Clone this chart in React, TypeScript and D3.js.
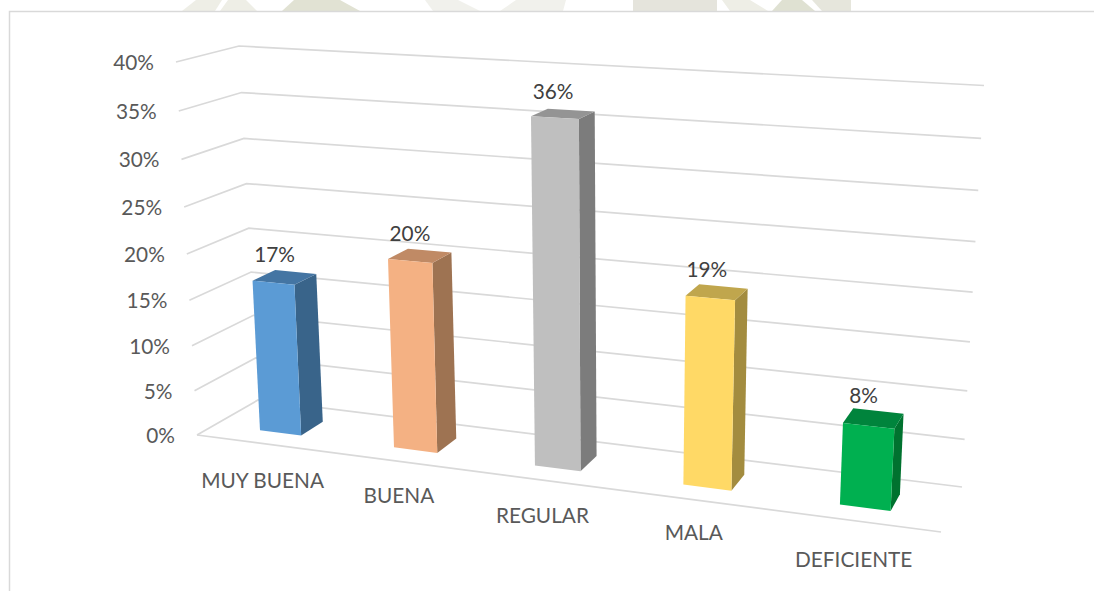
import React from "react";
import * as d3 from "d3";

const categories = ["MUY BUENA", "BUENA", "REGULAR", "MALA", "DEFICIENTE"];
const values = [16.7, 20.4, 36, 19.4, 8.3];
const valueLabels = ["17%", "20%", "36%", "19%", "8%"];
const ticks = [0, 5, 10, 15, 20, 25, 30, 35, 40];
const frontColors = ["#5B9BD5", "#F4B183", "#BFBFBF", "#FFD966", "#00B050"];
const topColors = ["#4475A3", "#C08A65", "#949494", "#C0A64D", "#00843C"];
const sideColors = ["#39648A", "#9E7352", "#7C7C7C", "#A38C3F", "#00722F"];
const catNudge = [37, 35, 36, 33, 39];

type P = [number, number];
// corners of the 3D box: front-left, front-right, back-right, back-left
const floorQuad: P[] = [[197, 435], [941, 532], [962, 487], [258, 400]];
const roofQuad: P[] = [[176, 62], [965, 104], [984, 85.5], [239, 46]];

function homography(q: P[]) {
  const [[x0, y0], [x1, y1], [x2, y2], [x3, y3]] = q;
  const dx1 = x1 - x2, dx2 = x3 - x2, sx = x0 - x1 + x2 - x3;
  const dy1 = y1 - y2, dy2 = y3 - y2, sy = y0 - y1 + y2 - y3;
  const den = dx1 * dy2 - dx2 * dy1;
  const g = (sx * dy2 - dx2 * sy) / den;
  const h = (dx1 * sy - sx * dy1) / den;
  const a = x1 - x0 + g * x1, b = x3 - x0 + h * x3;
  const d = y1 - y0 + g * y1, e = y3 - y0 + h * y3;
  return (u: number, v: number): P => {
    const w = g * u + h * v + 1;
    return [(a * u + b * v + x0) / w, (d * u + e * v + y0) / w];
  };
}
const floorAt = homography(floorQuad);
const roofAt = homography(roofQuad);
const mobius = (u: number, k: number) => u / (k + (1 - k) * u);

const yScale = d3.scaleLinear().domain([0, 40]).range([0, 1]);
const warp = 1.06;
function project(u: number, v: number, val: number): P {
  const t = yScale(val);
  const s = t / (warp + (1 - warp) * t);
  const a = floorAt(mobius(u, 1.02), v), b = roofAt(mobius(u, 1.148), v);
  return [a[0] + (b[0] - a[0]) * s, a[1] + (b[1] - a[1]) * s];
}

const xBand = d3.scaleBand<string>().domain(categories).range([0, 1]).paddingInner(0.6875).paddingOuter(0.34375);
const vFront = 0.29, vBack = 0.67;
const poly = d3.line<P>().x((d) => d[0]).y((d) => d[1]);
const closed = (pts: P[]) => poly(pts) + "Z";

const FONT = "Lato, Carlito, Calibri, sans-serif";

// faint watermark remnants visible above the chart frame
const watermarkX: [number, number, number, number, string][] = [
  [182, 215, 196, 222, "#eeeee6"],
  [220, 257, 228, 246, "#eeeee6"],
  [282, 360, 294, 340, "#e1e2d3"],
  [433, 480, 425, 458, "#f1f1ec"],
  [500, 563, 516, 566, "#f1f1ec"],
  [633, 717, 633, 717, "#e5e4dc"],
  [730, 768, 722, 750, "#eeeee6"],
  [772, 815, 782, 802, "#dfe1d2"],
  [822, 851, 812, 851, "#e6e6dc"],
];

export default function App() {
  return (
    <svg width={1094} height={591} style={{ position: "fixed", left: 0, top: 0, background: "#fff" }}>
      {watermarkX.map(([a, b, c, d, col], i) => (
        <path key={i} d={closed([[c, 0], [d, 0], [b, 11], [a, 11]])} fill={col} />
      ))}
      <path d="M9.5 591V11.5H1094" fill="none" stroke="#d9d9d9" strokeWidth={1.5} />
      {ticks.map((t) => (
        <path key={t} d={poly([project(0, 0, t), project(0, 1, t), project(1, 1, t)]) || ""} fill="none" stroke="#d9d9d9" strokeWidth={1.7} />
      ))}
      <path d={poly([project(0, 0, 0), project(1, 0, 0)]) || ""} fill="none" stroke="#d9d9d9" strokeWidth={1.7} />
      {ticks.map((t) => {
        const [x, y] = project(0, 0, t);
        return (
          <text key={t} x={x - 22} y={y + 8} textAnchor="end" fontFamily={FONT} fontSize={20.8} fill="#595959">{t}%</text>
        );
      })}
      {categories.map((c, i) => {
        const u0 = xBand(c)!, u1 = u0 + xBand.bandwidth();
        const um = (u0 + u1) / 2;
        const val = values[i];
        const fl = project(u0, vFront, 0), fr = project(u1, vFront, 0), br = project(u1, vBack, 0);
        const tfl = project(u0, vFront, val), tfr = project(u1, vFront, val), tbr = project(u1, vBack, val), tbl = project(u0, vBack, val);
        const cx = (tfl[0] + tfr[0] + tbr[0] + tbl[0]) / 4;
        const cy = (tfl[1] + tfr[1] + tbr[1] + tbl[1]) / 4;
        const lab = project(um, 0, 0);
        return (
          <g key={c}>
            <path d={closed([fr, br, tbr, tfr])} fill={sideColors[i]} />
            <path d={closed([tfl, tfr, tbr, tbl])} fill={topColors[i]} />
            <path d={closed([fl, fr, tfr, tfl])} fill={frontColors[i]} />
            <text x={cx - 10} y={cy - 15} textAnchor="middle" fontFamily={FONT} fontSize={20.8} fill="#404040">{valueLabels[i]}</text>
            <text x={lab[0] - 4 * um} y={lab[1] + catNudge[i] + 7} textAnchor="middle" fontFamily={FONT} fontSize={20.8} fill="#595959">{c}</text>
          </g>
        );
      })}
    </svg>
  );
}
